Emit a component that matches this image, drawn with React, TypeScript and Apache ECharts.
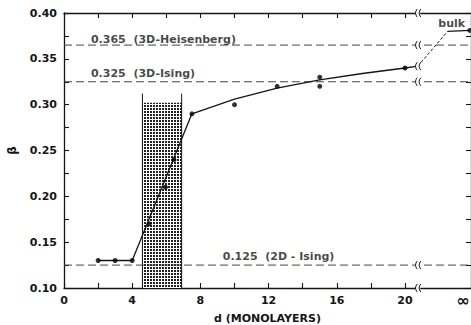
import React, { useEffect, useRef } from 'react';
import * as echarts from 'echarts';

// measured thickness d (monolayers) and exponent beta
const thicknessD = [2, 3, 4, 5, 5.95, 6.45, 7.5, 10, 12.5, 15, 15, 20];
const betaValues = [0.13, 0.13, 0.13, 0.17, 0.21, 0.24, 0.29, 0.30, 0.32, 0.32, 0.33, 0.34];
// bulk value (plotted at d = infinity)
const bulkBeta = 0.381;
// hand-drawn fit curve through the data
const fitD = [2, 4, 7.5, 10, 12.5, 15, 17.5, 20, 20.75];
const fitBeta = [0.13, 0.13, 0.29, 0.306, 0.318, 0.327, 0.334, 0.34, 0.342];
// dashed connection to the bulk value
const bulkLinkD = [20.75, 22.5];
const bulkLinkBeta = [0.342, 0.38];
// theoretical reference exponents
const refValues = [0.365, 0.325, 0.125];
const refLabels = ['0.365  (3D-Heisenberg)', '0.325  (3D-Ising)', '0.125  (2D - Ising)'];
// shaded thickness range
const shadedRange = [4.6, 6.9];
const shadedTop = 0.302;
const shadedLineTop = 0.312;
// axis ticks
const xTickValues = [0, 2, 4, 6, 8, 10, 12, 14, 16, 18, 20];
const xLabelValues = [0, 4, 8, 12, 16, 20];
const xLabelTexts = ['0', '4', '8', '12', '16', '20'];
const infinityLabel = '∞';
const INF_X = 23.4;
const X_MAX = 23.87;
const BULK_X = 23.8;
const BREAK_X = 20.75;
const Y_MIN = 0.1;
const Y_MAX = 0.4;

const FONT = '"DejaVu Sans", sans-serif';
const INK = '#151515';

const tileSvg =
  "<svg xmlns='http://www.w3.org/2000/svg' width='3' height='3'><rect width='3' height='3' fill='white'/><rect width='2' height='2' fill='%23202020'/></svg>";
const tileUrl = 'data:image/svg+xml;utf8,' + tileSvg.replace(/</g, '%3C').replace(/>/g, '%3E');

export default function App() {
  const ref = useRef<HTMLDivElement>(null);

  useEffect(() => {
    const chart = echarts.init(ref.current!, null, { renderer: 'svg' });

    const axisLine = { show: true, onZero: false, lineStyle: { color: INK, width: 1.3 } };
    const tickStyle = { color: INK, width: 1.1 };
    const labelStyle = { fontFamily: FONT, fontWeight: 'bold' as const, fontSize: 11, color: INK };

    const xLabelOf = (v: number) => {
      if (Math.abs(v - INF_X) < 1e-6) return '{inf|' + infinityLabel + '}';
      const i = xLabelValues.findIndex((x) => Math.abs(x - v) < 1e-6);
      return i >= 0 ? xLabelTexts[i] : '';
    };

    const yLabelOf = (v: number) => {
      const k = Math.round(v / 0.05);
      return Math.abs(k * 0.05 - v) < 1e-6 ? v.toFixed(2) : '';
    };

    const breakRows = [Y_MAX, ...refValues, Y_MIN, fitBeta[fitBeta.length - 1]].map((y) => [BREAK_X, y]);

    const option: any = {
      animation: false,
      backgroundColor: '#ffffff',
      grid: { left: 64, right: 0, top: 13, bottom: 37, containLabel: false, outerBoundsMode: 'none' },
      xAxis: [
        {
          type: 'value',
          min: 0,
          max: X_MAX,
          position: 'bottom',
          axisLine,
          axisTick: { show: true, inside: true, length: 5, customValues: xTickValues, lineStyle: tickStyle },
          axisLabel: {
            ...labelStyle,
            margin: 6,
            lineHeight: 13,
            customValues: [...xLabelValues, INF_X],
            formatter: xLabelOf,
            rich: {
              inf: {
                fontFamily: FONT,
                fontWeight: 'bold',
                fontSize: 16,
                lineHeight: 13,
                verticalAlign: 'middle',
                color: INK,
              },
            },
          },
          splitLine: { show: false },
          name: 'd (MONOLAYERS)',
          nameLocation: 'middle',
          nameGap: 25,
          nameTextStyle: { ...labelStyle, fontSize: 11 },
        },
        {
          type: 'value',
          min: 0,
          max: X_MAX,
          position: 'top',
          axisLine,
          axisTick: { show: true, inside: true, length: 5, customValues: xTickValues, lineStyle: tickStyle },
          axisLabel: { show: false },
          splitLine: { show: false },
        },
      ],
      yAxis: [
        {
          type: 'value',
          min: Y_MIN,
          max: Y_MAX,
          interval: 0.025,
          position: 'left',
          axisLine,
          axisTick: { show: true, inside: true, length: 5, lineStyle: tickStyle },
          axisLabel: { ...labelStyle, margin: 7, formatter: yLabelOf },
          splitLine: { show: false },
          name: 'β',
          nameLocation: 'middle',
          nameGap: 46,
          nameRotate: 90,
          nameTextStyle: { ...labelStyle, fontSize: 12 },
        },
        {
          type: 'value',
          min: Y_MIN,
          max: Y_MAX,
          interval: 0.025,
          position: 'right',
          axisLine,
          axisTick: { show: true, inside: true, length: 5, lineStyle: tickStyle },
          axisLabel: { show: false },
          splitLine: { show: false },
        },
      ],
      series: [
        {
          type: 'custom',
          name: 'shaded',
          z: 1,
          clip: false,
          data: [[shadedRange[0], shadedRange[1], shadedTop, shadedLineTop]],
          renderItem: (params: any, api: any) => {
            const x0 = api.value(0);
            const x1 = api.value(1);
            const top = api.value(2);
            const lineTop = api.value(3);
            const pBL = api.coord([x0, Y_MIN]);
            const pTR = api.coord([x1, top]);
            const pLT = api.coord([x0, lineTop]);
            const pRT = api.coord([x1, lineTop]);
            return {
              type: 'group',
              children: [
                {
                  type: 'rect',
                  shape: { x: pBL[0], y: pTR[1], width: pTR[0] - pBL[0], height: pBL[1] - pTR[1] },
                  style: {
                    fill: { image: tileUrl, repeat: 'repeat', imageWidth: 3, imageHeight: 3 },
                  },
                },
                {
                  type: 'line',
                  shape: { x1: pBL[0], y1: pBL[1], x2: pLT[0], y2: pLT[1] },
                  style: { stroke: INK, lineWidth: 1 },
                },
                {
                  type: 'line',
                  shape: { x1: pRT[0], y1: pBL[1], x2: pRT[0], y2: pRT[1] },
                  style: { stroke: INK, lineWidth: 1 },
                },
              ],
            };
          },
        },
        ...refValues.map((v) => ({
          type: 'line',
          z: 2,
          symbol: 'none',
          data: [
            [0, v],
            [X_MAX, v],
          ],
          lineStyle: { color: '#444', width: 1, type: [8, 4] },
        })),
        {
          type: 'line',
          name: 'fit',
          z: 3,
          symbol: 'none',
          data: fitD.map((d, i) => [d, fitBeta[i]]),
          lineStyle: { color: INK, width: 1.3 },
        },
        {
          type: 'line',
          name: 'bulk link',
          z: 3,
          symbol: 'none',
          data: bulkLinkD.map((d, i) => [d, bulkLinkBeta[i]]),
          lineStyle: { color: INK, width: 1, type: [3, 2] },
        },
        {
          type: 'line',
          name: 'bulk plateau',
          z: 3,
          symbol: 'none',
          data: [
            [bulkLinkD[1], bulkLinkBeta[1]],
            [BULK_X, bulkBeta],
          ],
          lineStyle: { color: INK, width: 1.3 },
        },
        {
          type: 'scatter',
          name: 'beta',
          z: 4,
          symbol: 'circle',
          symbolSize: 5,
          data: thicknessD.map((d, i) => [d, betaValues[i]]),
          itemStyle: { color: '#000' },
        },
        {
          type: 'scatter',
          name: 'bulk',
          z: 4,
          symbolSize: 5,
          clip: false,
          data: [[BULK_X, bulkBeta]],
          itemStyle: { color: '#000' },
        },
        {
          type: 'scatter',
          name: 'labels',
          z: 5,
          symbolSize: 0,
          silent: true,
          data: [
            { value: [1.58, 0.3715], label: { formatter: refLabels[0] } },
            { value: [1.58, 0.3345], label: { formatter: refLabels[1] } },
            { value: [9.31, 0.1342], label: { formatter: refLabels[2] } },
            { value: [21.95, 0.389], label: { formatter: 'bulk' } },
          ],
          label: {
            show: true,
            position: [0, 0],
            align: 'left',
            verticalAlign: 'middle',
            fontFamily: FONT,
            fontWeight: 'bold',
            fontSize: 11,
            color: INK,
          },
        },
        {
          type: 'custom',
          name: 'breaks',
          z: 10,
          clip: false,
          data: breakRows,
          renderItem: (params: any, api: any) => {
            const p = api.coord([api.value(0), api.value(1)]);
            const x = p[0];
            const y = p[1];
            const curve = (dx: number) => ({
              type: 'bezierCurve',
              shape: {
                x1: x + dx + 1.2,
                y1: y - 4,
                x2: x + dx + 1.2,
                y2: y + 4,
                cpx1: x + dx - 2.2,
                cpy1: y,
              },
              style: { stroke: INK, lineWidth: 1, fill: 'none' },
            });
            return {
              type: 'group',
              children: [
                {
                  type: 'rect',
                  shape: { x: x - 2.5, y: y - 3, width: 5, height: 6 },
                  style: { fill: '#ffffff' },
                },
                curve(-1.8),
                curve(1.8),
              ],
            };
          },
        },
      ],
    };

    chart.setOption(option);
    return () => chart.dispose();
  }, []);

  return (
    <div
      ref={ref}
      style={{ position: 'absolute', left: 0, top: 0, width: 471, height: 325, background: '#fff' }}
    />
  );
}
